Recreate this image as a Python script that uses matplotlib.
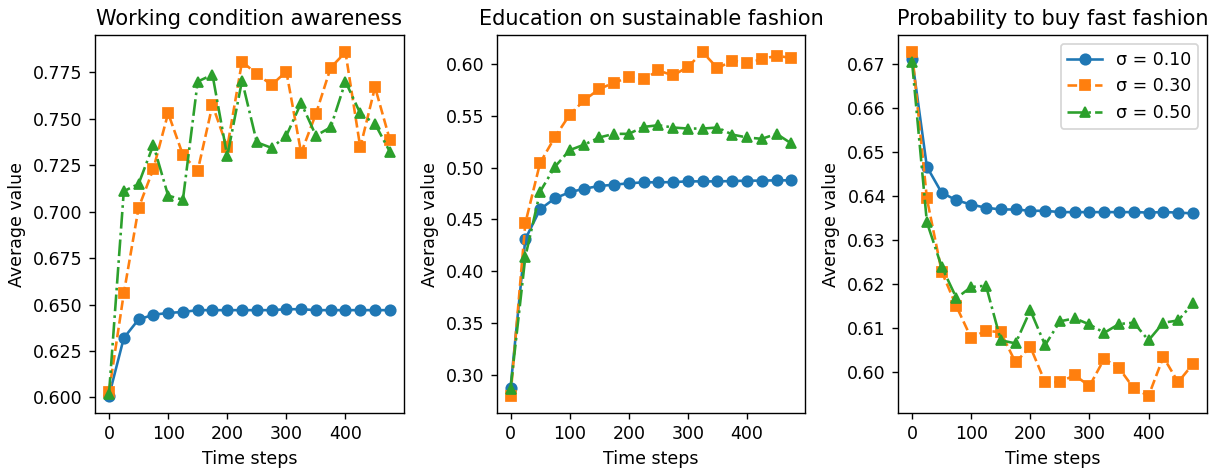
import matplotlib
matplotlib.use("Agg")
import matplotlib.pyplot as plt
import numpy as np

time_steps = list(range(0, 500, 25))
sigmas = [0.10, 0.30, 0.50]
titles = ["Working condition awareness", "Education on sustainable fashion", "Probability to buy fast fashion"]
x_ticks = [0, 100, 200, 300, 400]

work_s010 = [0.6009, 0.632, 0.642, 0.6445, 0.6455, 0.646, 0.647, 0.647, 0.647, 0.647,
             0.647, 0.647, 0.6475, 0.6475, 0.647, 0.647, 0.647, 0.647, 0.647, 0.647]
work_s030 = [0.603, 0.656, 0.702, 0.723, 0.753, 0.7305, 0.722, 0.7574, 0.7346, 0.7807,
             0.7741, 0.7682, 0.7754, 0.7316, 0.7526, 0.7775, 0.7858, 0.7346, 0.767, 0.7387]
work_s050 = [0.602, 0.711, 0.7149, 0.7359, 0.7086, 0.7064, 0.770, 0.7737, 0.7298, 0.7705,
             0.7373, 0.7343, 0.7409, 0.7585, 0.7409, 0.7454, 0.770, 0.7529, 0.7472, 0.7323]

edu_s010 = [0.288, 0.431, 0.4598, 0.4704, 0.4762, 0.4797, 0.4822, 0.4835, 0.4848, 0.4858,
            0.4858, 0.486, 0.4867, 0.4867, 0.4867, 0.487, 0.4874, 0.4874, 0.4877, 0.4877]
edu_s030 = [0.280, 0.4464, 0.5046, 0.5293, 0.551, 0.5651, 0.5757, 0.5818, 0.5869, 0.585,
            0.5936, 0.5888, 0.5971, 0.6112, 0.5958, 0.6029, 0.601, 0.6042, 0.608, 0.6054]
edu_s050 = [0.287, 0.414, 0.4768, 0.5008, 0.5168, 0.5222, 0.529, 0.5325, 0.5325, 0.5392,
            0.5408, 0.5386, 0.5376, 0.5376, 0.5386, 0.5318, 0.529, 0.5277, 0.5325, 0.5232]

buy_s010 = [0.6712, 0.6467, 0.6408, 0.6391, 0.6381, 0.6374, 0.637, 0.637, 0.6367, 0.6367,
            0.6364, 0.6364, 0.6364, 0.6364, 0.6364, 0.6364, 0.6363, 0.6364, 0.6363, 0.6361]
buy_s030 = [0.6727, 0.6395, 0.6229, 0.615, 0.6078, 0.6095, 0.6091, 0.6023, 0.6058, 0.5978,
            0.5978, 0.5994, 0.5969, 0.6031, 0.601, 0.5964, 0.5947, 0.6035, 0.5978, 0.6019]
buy_s050 = [0.6704, 0.6341, 0.624, 0.6169, 0.6194, 0.6197, 0.6073, 0.6066, 0.6141, 0.6062,
            0.6116, 0.6123, 0.6109, 0.609, 0.611, 0.6113, 0.6073, 0.6113, 0.6118, 0.6157]

panels = [
    [work_s010, work_s030, work_s050],
    [edu_s010, edu_s030, edu_s050],
    [buy_s010, buy_s030, buy_s050],
]
styles = ["o-", "s--", "^-."]

DPI = 125
fig, axes = plt.subplots(1, 3, figsize=(1213 / DPI, 470 / DPI), dpi=DPI)
fig.subplots_adjust(left=0.0783, right=0.995, top=0.9255, bottom=0.1213, wspace=0.30)

for ax, title, series in zip(axes, titles, panels):
    for sig, vals, st in zip(sigmas, series, styles):
        ax.plot(time_steps, vals, st, label=f"σ = {sig:.2f}")
    ax.set_title(title, fontsize=12)
    ax.set_xlabel("Time steps")
    ax.set_ylabel("Average value")
    ax.set_xticks(x_ticks)

axes[0].set_yticks([0.600, 0.625, 0.650, 0.675, 0.700, 0.725, 0.750, 0.775])
axes[2].legend(loc="upper right")

fig.savefig("out.png", dpi=DPI)
